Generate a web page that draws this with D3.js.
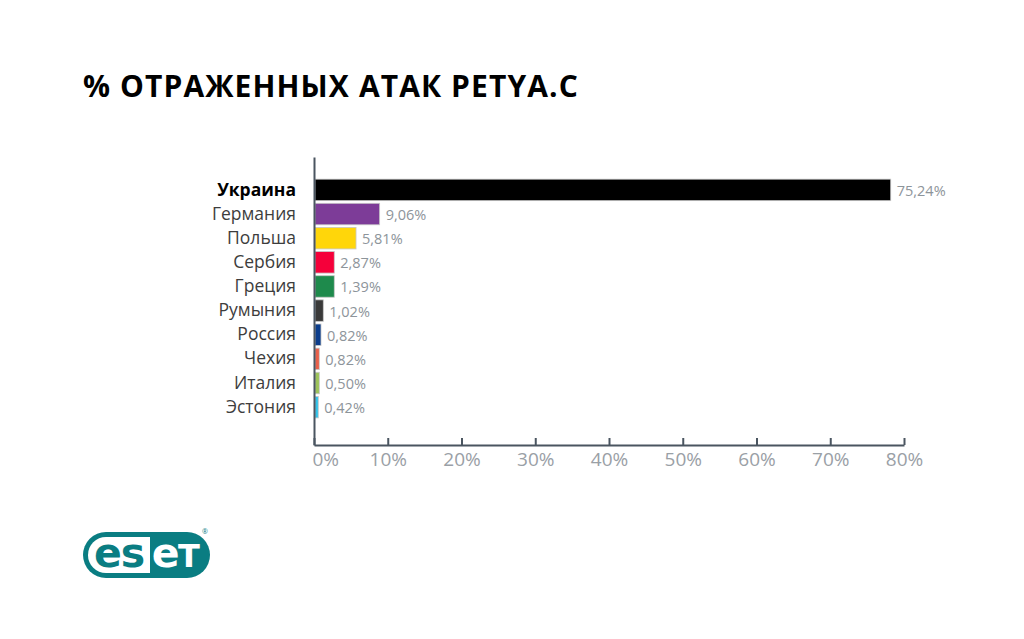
<!DOCTYPE html>
<html><head><meta charset="utf-8">
<script src="https://cdn.jsdelivr.net/npm/d3@7"></script>
<style>
html,body{margin:0;padding:0;background:#fff;}
svg{display:block;}
</style></head>
<body>
<svg id="chart" width="1024" height="639"></svg>
<script>
const categories = ["Украина","Германия","Польша","Сербия","Греция","Румыния","Россия","Чехия","Италия","Эстония"];
const valueLabels = ["75,24%","9,06%","5,81%","2,87%","1,39%","1,02%","0,82%","0,82%","0,50%","0,42%"];
// bar lengths as drawn in the picture (in % of the x axis)
const barValues = [78.2, 8.9, 5.7, 2.75, 2.75, 1.26, 0.95, 0.72, 0.72, 0.58];
const barColors = ["#000000","#7d3c98","#ffd60a","#f5003a","#1e8a4c","#3a3a3a","#0b3d8c","#e8604a","#9dc35a","#2fc3ea"];
const xTicks = [0,10,20,30,40,50,60,70,80];
const title = "% ОТРАЖЕННЫХ АТАК PETYA.C";

const svg = d3.select("#chart");
const font = "'Open Sans', sans-serif";

svg.append("text").attr("x",83).attr("y",97)
  .attr("font-family",font).attr("font-weight",700).attr("font-size",30)
  .attr("letter-spacing",1.1)
  .attr("fill","#000").text(title);

const x = d3.scaleLinear().domain([0,80]).range([314,904]);
const y = d3.scaleBand().domain(categories).range([157,445])
  .paddingInner(0.11).paddingOuter(1.02).align(0.45);

// bars
svg.append("g").selectAll("rect").data(categories).join("rect")
  .attr("x", x(0)+1)
  .attr("y", d=>y(d))
  .attr("width", (d,i)=>x(barValues[i])-x(0)-1)
  .attr("height", y.bandwidth())
  .attr("fill", (d,i)=>barColors[i])
  .attr("stroke","#c8c8c8").attr("stroke-width",0.8);

// value labels
svg.append("g").selectAll("text").data(categories).join("text")
  .attr("x",(d,i)=>x(barValues[i])+6)
  .attr("y",d=>y(d)+y.bandwidth()/2+6)
  .attr("font-family",font).attr("font-size",14.5)
  .attr("fill","#8d949a")
  .text((d,i)=>valueLabels[i]);

// y axis
const yAxis = svg.append("g").attr("transform",`translate(${x(0)},0)`)
  .call(d3.axisLeft(y).tickSize(0).tickPadding(18).tickSizeOuter(0));
yAxis.select(".domain").attr("stroke","#4a5560").attr("stroke-width",2);
yAxis.selectAll("text")
  .attr("font-family",font).attr("font-size",17.5)
  .attr("fill",d=>d==="Украина"?"#000":"#3d3d3d")
  .attr("font-weight",d=>d==="Украина"?700:400);

// x axis
const xAxis = svg.append("g").attr("transform","translate(0,445)")
  .call(d3.axisBottom(x).tickValues(xTicks).tickFormat(d=>d+"%")
    .tickSizeInner(-7).tickSizeOuter(0).tickPadding(8));
xAxis.select(".domain").attr("stroke","#4a5560").attr("stroke-width",2);
xAxis.selectAll(".tick line").attr("stroke","#4a5560").attr("stroke-width",2);
xAxis.selectAll("text")
  .attr("font-family",font).attr("font-size",19)
  .attr("fill","#9aa0a6");
xAxis.selectAll(".tick").filter(d=>d===0).select("text")
  .attr("text-anchor","start").attr("x",-2);

// ESET logo
const logo = svg.append("g");
const teal = "#0a7d82";
logo.append("rect").attr("x",83).attr("y",532).attr("width",127).attr("height",46)
  .attr("rx",23).attr("fill",teal);
logo.append("path")
  .attr("d","M150,537 L106,537 A18,18 0 0 0 88,555 A18,18 0 0 0 106,573 L150,573 Z")
  .attr("fill","#fff");
logo.append("text").attr("x",119).attr("y",567).attr("text-anchor","middle")
  .attr("font-family","'DejaVu Sans', sans-serif").attr("font-weight",700).attr("font-size",41)
  .attr("fill",teal).attr("letter-spacing",-1).text("es");
const t2 = logo.append("text").attr("x",175).attr("y",567).attr("text-anchor","middle")
  .attr("font-family","'DejaVu Sans', sans-serif").attr("font-weight",700)
  .attr("fill","#fff").attr("letter-spacing",-1.5);
t2.append("tspan").attr("font-size",41).text("e");
t2.append("tspan").attr("font-size",32).text("T");
logo.append("text").attr("x",205).attr("y",534).attr("text-anchor","middle")
  .attr("font-family",font).attr("font-size",7).attr("fill",teal).text("®");
</script>
</body></html>
